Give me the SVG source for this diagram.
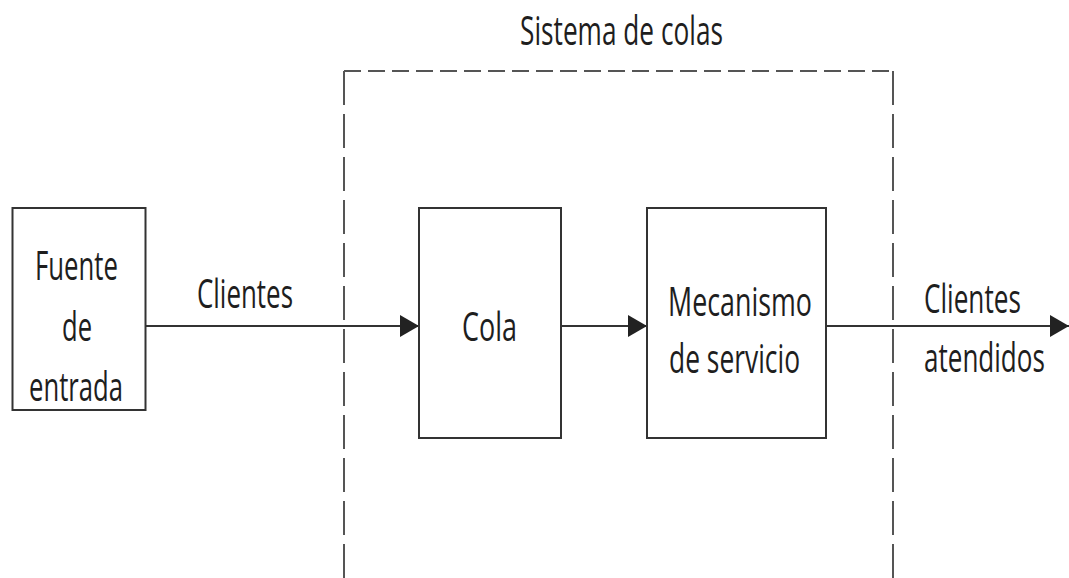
<svg xmlns="http://www.w3.org/2000/svg" width="1069" height="578" viewBox="0 0 1069 578">
<style>
.box{fill:#fff;stroke:#333;stroke-width:2}
.lbl{font-family:"Open Sans","Liberation Sans",sans-serif;font-size:41px;fill:#1e1e1e}
.conn{stroke:#333;stroke-width:2;fill:none}
.dash{stroke:#555;stroke-width:2;fill:none}
</style>
<defs>
<marker id="arr" markerUnits="userSpaceOnUse" markerWidth="20" markerHeight="22" refX="19" refY="11" orient="auto">
<path d="M0,0 L19,11 L0,22 Z" fill="#222"/>
</marker>
</defs>
<rect width="1069" height="578" fill="#fff"/>
<g id="sistema">
<path class="dash" d="M344,71 H893" stroke-dasharray="17 7"/>
<path class="dash" d="M344,71 V578" stroke-dasharray="34 9"/>
<path class="dash" d="M893,71 V578" stroke-dasharray="34 9"/>
<text class="lbl" x="520" y="45" textLength="203" lengthAdjust="spacingAndGlyphs">Sistema de colas</text>
</g>
<g id="connectors">
<line class="conn" x1="146" y1="326" x2="419" y2="326" marker-end="url(#arr)"/>
<line class="conn" x1="561" y1="326" x2="647" y2="326" marker-end="url(#arr)"/>
<line class="conn" x1="826" y1="326" x2="1069" y2="326" marker-end="url(#arr)"/>
<text class="lbl" x="197" y="308" textLength="96" lengthAdjust="spacingAndGlyphs">Clientes</text>
<g transform="translate(924,0) scale(0.65,1)">
<text class="lbl" x="0" y="313" textLength="149" lengthAdjust="spacingAndGlyphs">Clientes</text>
<text class="lbl" x="0" y="372" textLength="186" lengthAdjust="spacingAndGlyphs">atendidos</text>
</g>
</g>
<g id="fuente">
<rect class="box" x="12.5" y="208" width="133" height="202"/>
<text class="lbl" x="35" y="280" textLength="83" lengthAdjust="spacingAndGlyphs">Fuente</text>
<text class="lbl" x="62" y="341" textLength="30" lengthAdjust="spacingAndGlyphs">de</text>
<text class="lbl" x="29" y="401" textLength="94" lengthAdjust="spacingAndGlyphs">entrada</text>
</g>
<g id="cola">
<rect class="box" x="419" y="208" width="142" height="230"/>
<text class="lbl" x="462" y="341" textLength="55" lengthAdjust="spacingAndGlyphs">Cola</text>
</g>
<g id="mecanismo">
<rect class="box" x="647" y="208" width="179" height="230"/>
<text class="lbl" x="668" y="316" textLength="144" lengthAdjust="spacingAndGlyphs">Mecanismo</text>
<text class="lbl" x="669" y="373" textLength="131" lengthAdjust="spacingAndGlyphs">de servicio</text>
</g>
</svg>
